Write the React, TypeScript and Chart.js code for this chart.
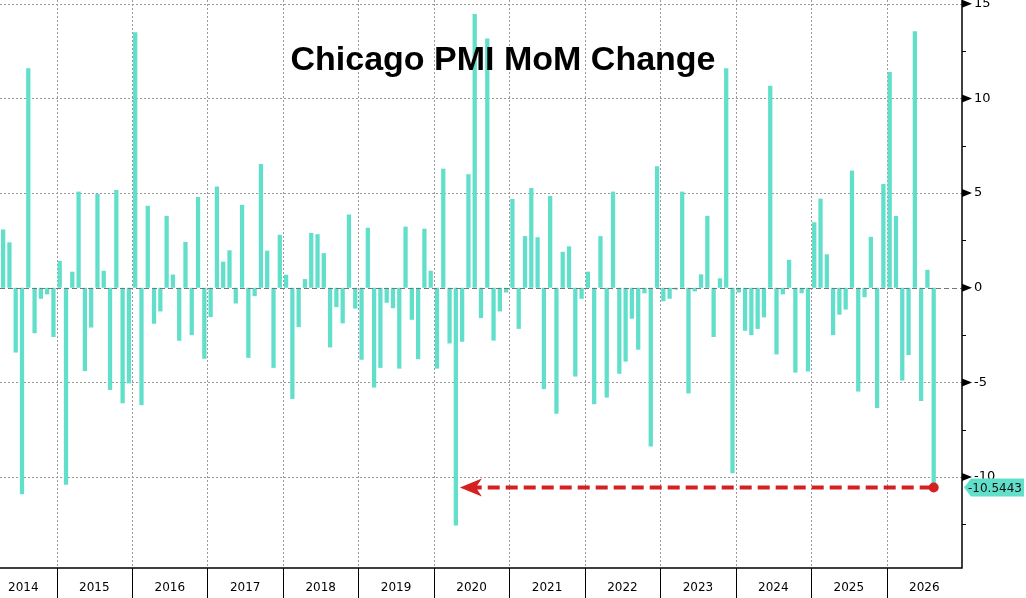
import React, { useEffect, useRef } from "react";
import { Chart, registerables } from "chart.js";
Chart.register(...registerables);

const startYear = 2014;
const startMonth = 3; // April (0-based)
const values: (number | null)[] = [
  3.08, 2.4, -3.42, -10.9, 11.6, -2.4, -0.58, -0.35, -2.6,
  1.42, -10.4, 0.85, 5.08, -4.4, -2.1, 4.96, 0.9, -5.4, 5.17, -6.1, -5.05,
  13.5, -6.2, 4.33, -1.9, -1.25, 3.8, 0.7, -2.8, 2.42, -2.5, 4.8, -3.75,
  -1.55, 5.35, 1.38, 1.98, -0.83, 4.38, -3.7, -0.44, 6.54, 1.96, -4.23, 2.8,
  0.69, -5.87, -2.08, 0.46, 2.9, 2.83, 1.83, -3.15, -1.02, -1.88, 3.87, -1.1,
  -3.8, 3.17, -5.27, -4.23, -0.79, -1.08, -4.27, 3.23, -1.69, -3.77, 3.12, 0.9,
  -4.27, 6.29, -2.94, -12.56, -2.85, 6.0, 14.46, -1.6, 13.17, -2.79, -1.25, -0.25,
  4.69, -2.17, 2.73, 5.27, 2.67, -5.35, 4.85, -6.65, 1.9, 2.19, -4.69, -0.58,
  0.85, -6.15, 2.73, -5.8, 5.08, -4.54, -3.9, -1.63, -3.27, -0.29, -8.38, 6.42,
  -0.71, -0.58, -0.1, 5.08, -5.58, -0.19, 0.71, 3.8, -2.6, 0.5, 11.6, -9.8,
  -0.25, -2.27, -2.5, -2.17, -1.56, 10.67, -3.52, -0.35, 1.48, -4.48, -0.29, -4.42,
  3.46, 4.71, 1.77, -2.5, -1.42, -1.15, 6.19, -5.48, -0.5, 2.69, -6.35, 5.48,
  11.4, 3.79, -4.9, -3.55, 13.55, -5.98, 0.95, -10.5443,
  null, null, null, null,
];
const labels: string[] = values.map((_, i) => {
  const m = startMonth + i;
  return `${startYear + Math.floor(m / 12)}-${String((m % 12) + 1).padStart(2, "0")}`;
});
const yTicks = [15, 10, 5, 0, -5, -10];
const lastValue = -10.5443;
const minIndex = 72;

const BAR = "#62dfcb";

const overlay = {
  id: "overlay",
  beforeDatasetsDraw(chart: any) {
    const { ctx, chartArea: a, scales } = chart;
    const x = scales.x, y = scales.y;
    ctx.save();
    ctx.strokeStyle = "#9a9a9a";
    ctx.lineWidth = 1;
    ctx.setLineDash([2, 2]);
    yTicks.forEach((t) => {
      if (t === 0) return;
      const py = Math.round(y.getPixelForValue(t)) + 0.5;
      ctx.beginPath(); ctx.moveTo(a.left, py); ctx.lineTo(a.right, py); ctx.stroke();
    });
    const step = x.getPixelForValue(1) - x.getPixelForValue(0);
    labels.forEach((l, i) => {
      if (l.endsWith("-01")) {
        const px = Math.round(x.getPixelForValue(i) - step / 2) + 0.5;
        ctx.beginPath(); ctx.moveTo(px, a.top); ctx.lineTo(px, a.bottom); ctx.stroke();
      }
    });
    ctx.restore();
  },
  afterDatasetsDraw(chart: any) {
    const { ctx, chartArea: a, scales } = chart;
    const x = scales.x, y = scales.y;
    ctx.save();
    ctx.strokeStyle = "#777";
    ctx.setLineDash([5, 3]);
    const zy = Math.round(y.getPixelForValue(0)) + 0.5;
    ctx.beginPath(); ctx.moveTo(a.left, zy); ctx.lineTo(a.right, zy); ctx.stroke();
    ctx.setLineDash([]);
    ctx.strokeStyle = "#000";
    ctx.lineWidth = 1.5;
    ctx.beginPath(); ctx.moveTo(a.right, a.top); ctx.lineTo(a.right, a.bottom); ctx.lineTo(a.left, a.bottom); ctx.stroke();
    ctx.lineWidth = 1;
    for (let v = -12.5; v <= 15; v += 2.5) {
      const py = y.getPixelForValue(v);
      if (yTicks.includes(v)) {
        ctx.fillStyle = "#000";
        ctx.beginPath(); ctx.moveTo(a.right, py - 4); ctx.lineTo(a.right + 10, py); ctx.lineTo(a.right, py + 4); ctx.closePath(); ctx.fill();
        ctx.font = "13px 'DejaVu Sans'";
        ctx.textBaseline = "middle";
        ctx.textAlign = "left";
        ctx.fillText(v < 0 ? "-" + Math.abs(v) : String(v), a.right + 12, py);
      } else {
        ctx.beginPath(); ctx.moveTo(a.right, Math.round(py) + 0.5); ctx.lineTo(a.right + 4, Math.round(py) + 0.5); ctx.stroke();
      }
    }
    const step = x.getPixelForValue(1) - x.getPixelForValue(0);
    const bounds: number[] = [];
    labels.forEach((l, i) => { if (l.endsWith("-01")) bounds.push(x.getPixelForValue(i) - step / 2); });
    ctx.strokeStyle = "#000";
    bounds.forEach((b) => {
      const px = Math.round(b) + 0.5;
      ctx.beginPath(); ctx.moveTo(px, a.bottom); ctx.lineTo(px, a.bottom + 30); ctx.stroke();
    });
    const edges = [Math.max(a.left, bounds[0] - 12 * step), ...bounds, a.right];
    ctx.fillStyle = "#000";
    ctx.font = "12px 'DejaVu Sans'";
    ctx.textAlign = "center";
    ctx.textBaseline = "middle";
    for (let k = 0; k < edges.length - 1; k++) {
      ctx.fillText(String(startYear + k), (edges[k] + edges[k + 1]) / 2 - (k === 0 ? 5 : 0), a.bottom + 20);
    }
    const lastIdx = values.findIndex((v) => v === lastValue);
    const ay = y.getPixelForValue(lastValue);
    const x1 = x.getPixelForValue(lastIdx) - 2;
    const x0 = x.getPixelForValue(minIndex) + 4;
    ctx.strokeStyle = "#d42020";
    ctx.fillStyle = "#d42020";
    ctx.lineWidth = 4;
    ctx.setLineDash([12, 6]);
    ctx.beginPath(); ctx.moveTo(x1, ay); ctx.lineTo(x0 + 14, ay); ctx.stroke();
    ctx.setLineDash([]);
    ctx.beginPath(); ctx.moveTo(x0, ay); ctx.lineTo(x0 + 22, ay - 9); ctx.lineTo(x0 + 16, ay); ctx.lineTo(x0 + 22, ay + 9); ctx.closePath(); ctx.fill();
    ctx.beginPath(); ctx.arc(x1 + 2, ay, 5, 0, Math.PI * 2); ctx.fill();
    const lx = a.right + 2;
    ctx.fillStyle = BAR;
    ctx.beginPath(); ctx.moveTo(lx, ay); ctx.lineTo(lx + 7, ay - 9); ctx.lineTo(1024, ay - 9); ctx.lineTo(1024, ay + 9); ctx.lineTo(lx + 7, ay + 9); ctx.closePath(); ctx.fill();
    ctx.fillStyle = "#111";
    ctx.font = "12px 'DejaVu Sans'";
    ctx.textAlign = "left";
    ctx.fillText(String(lastValue), lx + 4, ay + 1);
    ctx.fillStyle = "#000";
    ctx.font = "bold 34px 'Liberation Sans'";
    ctx.textAlign = "center";
    ctx.fillText("Chicago PMI MoM Change", 503, 61);
    ctx.restore();
  },
};

export default function App() {
  const ref = useRef<HTMLCanvasElement>(null);
  useEffect(() => {
    document.body.style.margin = "0";
    const chart = new Chart(ref.current!, {
      type: "bar",
      data: {
        labels,
        datasets: [{ data: values as any, backgroundColor: BAR, barPercentage: 0.68, categoryPercentage: 1 }],
      },
      options: {
        animation: false,
        responsive: false,
        layout: { padding: { left: 0, right: 64, top: 0, bottom: 30 } },
        plugins: { legend: { display: false }, tooltip: { enabled: false } },
        scales: {
          x: { display: false, offset: true },
          y: { display: false, min: -14.8, max: 15.2 },
        },
      },
      plugins: [overlay],
    });
    return () => chart.destroy();
  }, []);
  return (
    <div style={{ width: 1026, height: 598, background: "#fff" }}>
      <canvas ref={ref} width={1026} height={598} />
    </div>
  );
}
